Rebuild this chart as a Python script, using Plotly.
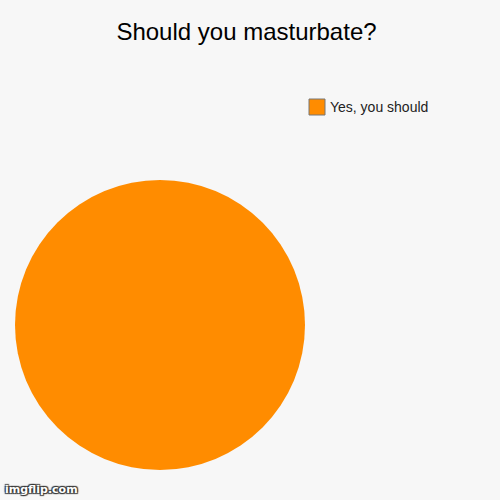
import plotly.graph_objects as go

labels = ["Yes, you should"]
values = [100]
colors = ["#FF8C00"]

fig = go.Figure(go.Pie(
    labels=labels,
    values=values,
    marker=dict(colors=colors, line=dict(width=0)),
    textinfo="none",
    hoverinfo="label+percent",
    sort=False,
    showlegend=False,
    domain=dict(x=[0.03, 0.61], y=[0.06, 0.64]),
))

# legend drawn by hand so the swatch matches the big square of the original
fig.add_shape(type="rect", xref="paper", yref="paper",
              x0=309 / 500, x1=325 / 500, y0=1 - 115 / 500, y1=1 - 99 / 500,
              fillcolor=colors[0], line=dict(color="#777777", width=1))
fig.add_annotation(text=labels[0], xref="paper", yref="paper",
                   x=328 / 500, y=1 - 107 / 500, xanchor="left", yanchor="middle",
                   showarrow=False, font=dict(size=14, color="#222222"))

fig.add_annotation(
    text="<b>imgflip.com</b>", x=0.005, y=0.005, xref="paper", yref="paper",
    xanchor="left", yanchor="bottom", showarrow=False,
    font=dict(size=11, color="white", family="DejaVu Sans",
              shadow="1px 1px 1px #333, -1px -1px 1px #333, 1px -1px 1px #333, -1px 1px 1px #333"),
)

fig.update_layout(
    width=500, height=500,
    margin=dict(l=0, r=0, t=0, b=0),
    paper_bgcolor="#F7F7F7",
    plot_bgcolor="#F7F7F7",
    font=dict(family="Liberation Sans, Arial", color="#222222"),
    title=dict(text="Should you masturbate?", x=0.493, xanchor="center",
               y=1 - 32 / 500, yanchor="middle",
               font=dict(size=24, color="#000000")),
)

fig.write_html("out.html", config={"displayModeBar": False},
               post_script="document.body.style.margin='0';")
